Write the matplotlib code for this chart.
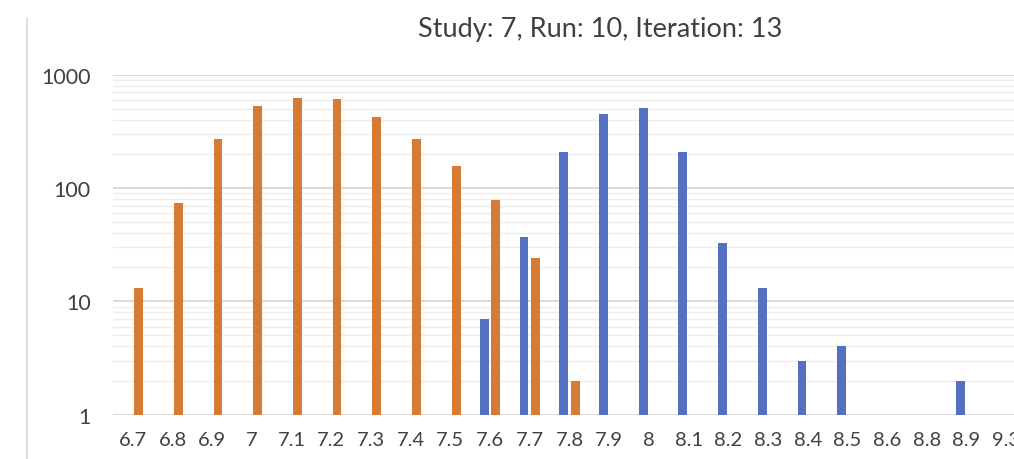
import matplotlib
matplotlib.use("Agg")
import matplotlib.pyplot as plt
from matplotlib.lines import Line2D
from matplotlib.ticker import LogLocator, FixedLocator, FixedFormatter, NullFormatter
import numpy as np

categories = ["6.7", "6.8", "6.9", "7", "7.1", "7.2", "7.3", "7.4", "7.5", "7.6", "7.7", "7.8",
              "7.9", "8", "8.1", "8.2", "8.3", "8.4", "8.5", "8.6", "8.8", "8.9", "9.3"]
blue_values = [0, 0, 0, 0, 0, 0, 0, 0, 0, 7, 37, 207,
               451, 506, 207, 33, 13, 3, 4, 0, 0, 2, 0]
orange_values = [13, 74, 271, 531, 624, 611, 425, 271, 156, 79, 24, 2,
                 0, 0, 0, 0, 0, 0, 0, 0, 0, 0, 0]
title = "Study: 7, Run: 10, Iteration: 13"
ytick_values = [1, 10, 100, 1000]
ytick_labels = ["1", "10", "100", "1000"]

BLUE = "#5470C1"
ORANGE = "#D67A35"
TXT = "#404040"

plt.rcParams['font.family'] = ['Lato', 'DejaVu Sans']

W, H = 1014, 460
fig = plt.figure(figsize=(W / 100, H / 100), dpi=100)
left_px, right_px = 113, 1026
top_px, bottom_px = 75.7, 415.7
ax = fig.add_axes([left_px / W, 1 - bottom_px / H, (right_px - left_px) / W, (bottom_px - top_px) / H])

x = np.arange(len(categories))
bw = 0.22
off = 0.145
b = np.array(blue_values, dtype=float)
o = np.array(orange_values, dtype=float)
bm = b > 0
om = o > 0
ax.bar(x[bm] - off, b[bm], width=bw, color=BLUE, zorder=3)
ax.bar(x[om] + off, o[om], width=bw, color=ORANGE, zorder=3)

ax.set_yscale('log')
ax.set_ylim(1, 1000)
ax.set_xlim(-0.5, len(categories) - 0.5)
ax.yaxis.set_major_locator(FixedLocator(ytick_values))
ax.yaxis.set_major_formatter(FixedFormatter(ytick_labels))
ax.yaxis.set_minor_locator(LogLocator(base=10, subs=np.arange(2, 10)))
ax.yaxis.set_minor_formatter(NullFormatter())
ax.set_xticks(x)
ax.set_xticklabels(categories)

ax.grid(True, which='major', axis='y', color='#d9d9d9', linewidth=1.4, zorder=0)
ax.grid(True, which='minor', axis='y', color='#eeeeee', linewidth=1.0, zorder=0)
ax.grid(False, axis='x')
for s in ax.spines.values():
    s.set_visible(False)
ax.tick_params(axis='both', which='both', length=0)
ax.tick_params(axis='y', pad=16, labelsize=15.5, labelcolor=TXT)
ax.tick_params(axis='x', pad=12, labelsize=14.5, labelcolor=TXT)

fig.text(600 / W, 1 - 29 / H, title, ha='center', va='center', fontsize=19.5, color=TXT)
fig.add_artist(Line2D([27 / W, 27 / W], [0, 1 - 19 / H], transform=fig.transFigure,
                      color='#d9d9d9', linewidth=1.2))

fig.savefig("out.png", dpi=100)
